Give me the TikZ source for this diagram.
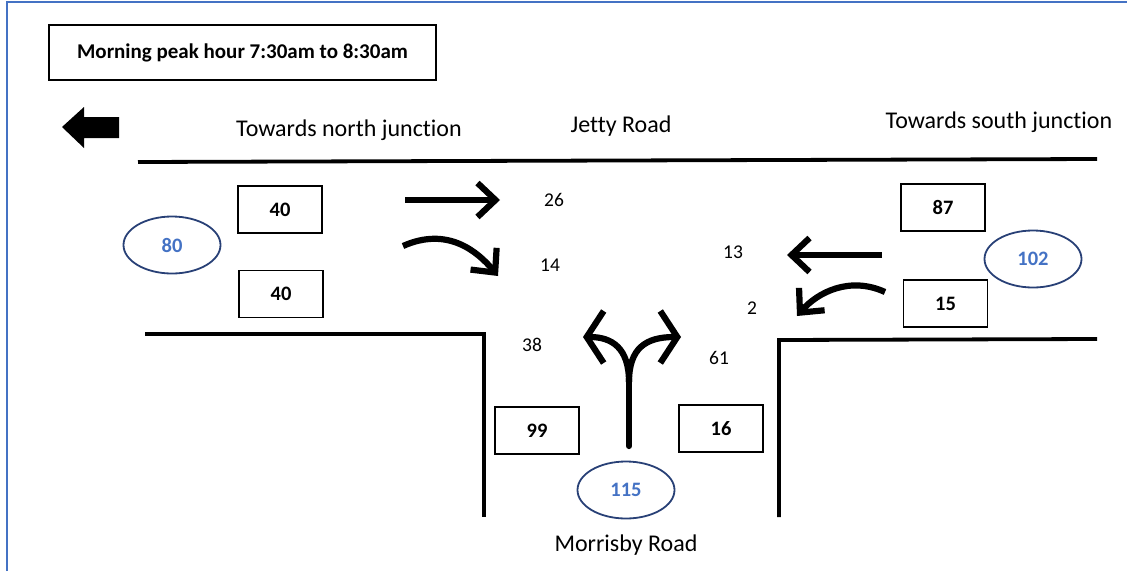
\documentclass[tikz,border=0pt]{standalone}
\usepackage{fontspec}
\setmainfont{Carlito}[Ligatures=NoCommon]
\usetikzlibrary{arrows.meta,shapes.geometric}
\definecolor{frameblue}{RGB}{68,114,196}
\definecolor{navy}{RGB}{40,64,118}
\definecolor{numblue}{RGB}{68,114,196}
\begin{document}
\begin{tikzpicture}[x=1pt,y=-1pt,
  countbox/.style={draw,line width=1.8pt,minimum width=84pt,minimum height=47pt,inner sep=0pt,
    font=\fontsize{20.5}{24}\selectfont\bfseries},
  total/.style={draw=navy,line width=1.8pt,ellipse,minimum width=97pt,minimum height=57pt,inner sep=0pt,
    text=numblue,font=\fontsize{20.5}{24}\selectfont\bfseries},
  label/.style={inner sep=0pt,font=\fontsize{24}{28}\selectfont},
  count/.style={inner sep=0pt,font=\fontsize{19.5}{23}\selectfont},
  road/.style={line width=3.8pt},
  flow/.style={line width=6.2pt,-{Straight Barb[length=18pt,width=34pt]}},
  fork/.style={line width=6.2pt,-{Straight Barb[length=17pt,width=52pt]}}]
\useasboundingbox (0,0) rectangle (1127,571);
% frame
\draw[frameblue,line width=2.2pt] (7,571) -- (7,2) -- (1127,2);
% title
\node[draw,line width=1.8pt,minimum width=387pt,minimum height=55pt,inner sep=0pt,
  font=\fontsize{21}{25}\selectfont\bfseries] (title) at (242.5,52.5) {Morning peak hour 7:30am to 8:30am};
% block arrow
\fill (62,127) -- (84,107) -- (84,117) -- (119,117) -- (119,138) -- (84,138) -- (84,148) -- cycle;
% labels
\node[label] (north) at (349,130) {Towards north junction};
\node[label] (jetty) at (621,126) {Jetty Road};
\node[label] (south) at (999,122) {Towards south junction};
\node[label] (morrisby) at (626,545) {Morrisby Road};
% roads
\draw[road] (138,162) -- (1097,159);
\draw[road] (145,334) -- (484,334) -- (484,517);
\draw[road] (779,517) -- (779,340) -- (1097,339);
% count boxes
\node[countbox] (bA) at (280,209.5) {40};
\node[countbox] (bB) at (281,294) {40};
\node[countbox] (bC) at (943,207.5) {87};
\node[countbox] (bD) at (945.5,303.5) {15};
\node[countbox] (bE) at (537,430.5) {99};
\node[countbox] (bF) at (721,428.5) {16};
% totals
\node[total] (tW) at (172,245) {80};
\node[total] (tE) at (1033,259) {102};
\node[total] (tS) at (626,490) {115};
% movement counts
\node[count] (n26) at (554,200) {26};
\node[count] (n14) at (550,265) {14};
\node[count] (n13) at (733,252) {13};
\node[count] (n2) at (752,308) {2};
\node[count] (n38) at (532,345) {38};
\node[count] (n61) at (719,358) {61};
% movement arrows
\draw[flow] (405,200) -- (500,200);
\draw[flow] (403,246) .. controls (448,226) and (478,252) .. (498,276);
\draw[flow] (882,255) -- (787,255);
\draw[flow] (885,292) .. controls (850,276) and (818,292) .. (797,316);
\draw[line width=6.2pt,line cap=round] (629,446) -- (629,380);
\draw[fork] (629,382) .. controls (629,348) and (612,337) .. (583,337);
\draw[fork] (629,382) .. controls (629,348) and (646,337) .. (681,337);
\end{tikzpicture}
\end{document}
